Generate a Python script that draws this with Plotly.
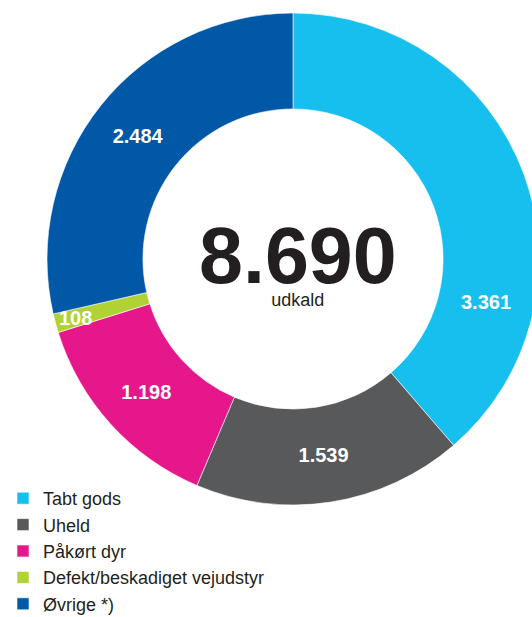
import math
import plotly.graph_objects as go

categories = ["Tabt gods", "Uheld", "Påkørt dyr", "Defekt/beskadiget vejudstyr", "Øvrige *)"]
values = [3361, 1539, 1198, 108, 2484]
colors = ["#17BFEF", "#58595B", "#E6168B", "#B0D235", "#0058A6"]
center_caption = "udkald"

total = sum(values)
fmt = lambda v: f"{v:,}".replace(",", ".")

W, H = 540, 617
cx, cy, R = 293, 259, 246
HOLE = 0.61
FONT = "Liberation Sans, Arial, sans-serif"

# labels placed by plotly except two that the reference moves
moved = {0: (102.6, 198), 3: (None, 225)}  # (angle deg clockwise from top or None=mid-angle, radius px)
slice_text = [("" if i in moved else fmt(v)) for i, v in enumerate(values)]

fig = go.Figure(go.Pie(
    labels=categories,
    values=values,
    text=slice_text,
    textinfo="text",
    textposition="inside",
    insidetextorientation="horizontal",
    insidetextfont=dict(family=FONT, size=20, color="white", weight="bold"),
    marker=dict(colors=colors, line=dict(color="white", width=0.6)),
    hole=HOLE,
    sort=False,
    direction="clockwise",
    rotation=0,
    domain=dict(x=[(cx - R) / W, (cx + R) / W], y=[(H - cy - R) / H, (H - cy + R) / H]),
    hoverinfo="skip",
))

cum = 0
for i, v in enumerate(values):
    start = cum / total * 360
    cum += v
    end = cum / total * 360
    if i in moved:
        ang, rad = moved[i]
        if ang is None:
            ang = (start + end) / 2
        a = math.radians(ang)
        px = cx + rad * math.sin(a)
        py = cy - rad * math.cos(a)
        fig.add_annotation(
            x=px / W, y=(H - py) / H, xref="paper", yref="paper",
            text=fmt(v), showarrow=False, xanchor="center", yanchor="middle",
            font=dict(family=FONT, size=20, color="white", weight="bold"),
        )

fig.add_annotation(
    x=298 / W, y=(H - 260) / H, xref="paper", yref="paper",
    text=f"<span style='font-size:79px;font-weight:bold'>{fmt(total)}</span><br>{center_caption}",
    showarrow=False,
    font=dict(family=FONT, size=18, color="#231F20"),
    xanchor="center", yanchor="middle", align="center",
)

fig.update_layout(
    width=W, height=H,
    margin=dict(l=0, r=0, t=0, b=0, autoexpand=False),
    paper_bgcolor="white", plot_bgcolor="white",
    uniformtext=dict(minsize=20, mode="show"),
    showlegend=True,
    legend=dict(
        x=3 / W, y=(617 - 480) / H, xanchor="left", yanchor="top",
        font=dict(family=FONT, size=18, color="#231F20"),
        bgcolor="rgba(0,0,0,0)", traceorder="normal",
    ),
)

fig.write_html("out.html", post_script="document.body.style.overflow='hidden';document.body.style.margin='0';")
